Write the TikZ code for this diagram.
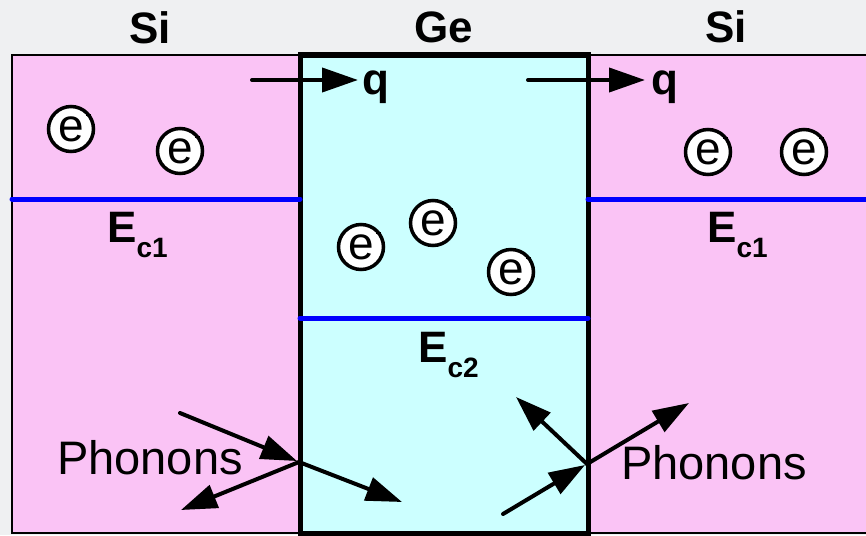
\documentclass[tikz,border=0pt]{standalone}
\usepackage{fontspec}
\setmainfont{Liberation Sans}
\usetikzlibrary{arrows.meta}
\definecolor{bgc}{RGB}{239,240,242}
\definecolor{sipink}{RGB}{250,195,245}
\definecolor{gecyan}{RGB}{204,255,255}
\definecolor{bandblue}{RGB}{0,0,255}
\begin{document}
\begin{tikzpicture}[x=1pt,y=-1pt,
  big/.style={font=\fontsize{44}{50}\selectfont\bfseries, anchor=base, inner sep=0},
  phon/.style={font=\fontsize{47}{52}\selectfont, anchor=base, inner sep=0},
  elec/.style={circle, draw=black, line width=3.5pt, fill=white, minimum size=45pt, inner sep=0pt, font=\fontsize{46}{50}\selectfont},
  arr/.style={line width=4pt, line cap=round, -{Triangle[length=36pt,width=24pt]}},
  band/.style={draw=bandblue, line width=5pt, line cap=round},
  eclabel/.style={anchor=base west, inner sep=0, font=\fontsize{44}{50}\selectfont\bfseries},
]
\useasboundingbox (0,0) rectangle (866,535);
\clip (0,0) rectangle (866,535);
\fill[bgc] (0,0) rectangle (866,535);
% regions
\draw[fill=sipink, line width=2.5pt] (12,55) rectangle (300,533);
\draw[fill=sipink, line width=2.5pt] (588,55) rectangle (880,533);
\draw[fill=gecyan, line width=5pt] (300,55) rectangle (588,533);
% band edges
\coordinate (b1a) at (12,199);
\coordinate (b1b) at (300,199);
\coordinate (b2a) at (300,318);
\coordinate (b2b) at (588,318);
\coordinate (b3a) at (588,199);
\coordinate (b3b) at (870,199);
\draw[band] (b1a) -- (b1b);
\draw[band] (b2a) -- (b2b);
\draw[band] (b3a) -- (b3b);
% titles
\node[big] (siL) at (150,44) {Si};
\node[big] (ge) at (444,43) {Ge};
\node[big] (siR) at (726,43) {Si};
% heat flux arrows
\coordinate (q1s) at (252,80);
\coordinate (q1e) at (358,80);
\coordinate (q2s) at (528,80);
\coordinate (q2e) at (645,80);
\draw[arr] (q1s) -- (q1e);
\draw[arr] (q2s) -- (q2e);
\node[big] (q1) at (376,94) {q};
\node[big] (q2) at (665,94) {q};
% electrons
\foreach \n/\x/\y in {e1/71/129, e2/180/151, e3/708/152, e4/804/152, e5/361/247, e6/433/223, e7/511/272}{
  \node[elec] (\n) at (\x,\y) {e};
  \draw[line width=1.3pt] ([shift={(15,-14)}]\n.center) -- ++(5,0);
}
% conduction band labels
\node[eclabel] (ec1L) at (107,242) {E\raisebox{-15pt}{\fontsize{28}{30}\selectfont c1}};
\node[eclabel] (ec1R) at (707,242) {E\raisebox{-15pt}{\fontsize{28}{30}\selectfont c1}};
\node[eclabel] (ec2) at (418,362) {E\raisebox{-15pt}{\fontsize{28}{30}\selectfont c2}};
% phonons
\node[phon] (phL) at (150,474) {Phonons};
\node[phon] (phR) at (714,479) {Phonons};
\coordinate (pL0) at (180,413);
\coordinate (pL) at (297,461);
\coordinate (pLs) at (299,462);
\coordinate (pL1) at (181,510);
\coordinate (pL2) at (402,502);
\draw[arr] (pL0) -- (pL);
\draw[arr] (pLs) -- (pL1);
\draw[arr] (pLs) -- (pL2);
\coordinate (pR0) at (503,514);
\coordinate (pR) at (585,465);
\coordinate (pRs) at (587,464);
\coordinate (pR1) at (516,397);
\coordinate (pR2) at (689,403);
\draw[arr] (pR0) -- (pR);
\draw[arr] (pRs) -- (pR1);
\draw[arr] (pRs) -- (pR2);
\end{tikzpicture}
\end{document}
